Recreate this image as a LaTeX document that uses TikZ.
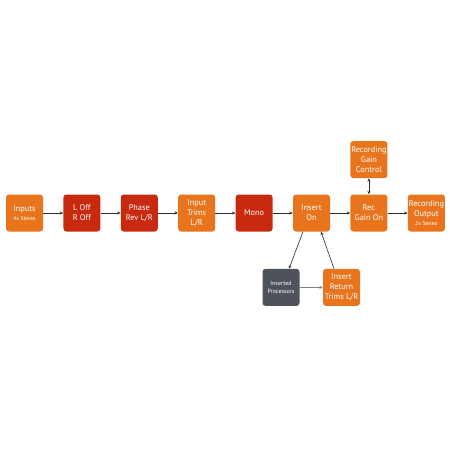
\documentclass[tikz,border=0pt]{standalone}
\usepackage{fontspec}
\setmainfont{PT Sans}
\usetikzlibrary{arrows.meta,positioning}
\definecolor{sigorange}{RGB}{232,117,30}
\definecolor{sigred}{RGB}{200,42,16}
\definecolor{sigslate}{RGB}{78,82,90}
\definecolor{wiregrey}{RGB}{45,45,45}

\begin{document}
\begin{tikzpicture}[font=\fontsize{8.3}{10}\selectfont, box/.style={rounded corners=3pt, align=center, text=white, minimum width=37pt, minimum height=37pt, inner sep=1pt, fill=sigorange}, arr/.style={-{Stealth[length=3.5pt,width=3pt]}, line width=0.6pt, draw=wiregrey}]
\useasboundingbox[fill=white] (0,0) rectangle (450pt,-450pt);
\node[box] (inputs) at (24.5pt,-213pt) {Inputs\\[-1pt]{\fontsize{5.5}{6}\selectfont 4x Stereo}};
\node[box, right=20pt of inputs, fill=sigred] (lroff) {L Off\\R Off};
\node[box, right=20pt of lroff, fill=sigred] (phase) {Phase\\Rev L/R};
\node[box, right=20pt of phase] (trims) {Input\\Trims\\L/R};
\node[box, right=20pt of trims, fill=sigred] (mono) {Mono};
\node[box, right=20pt of mono] (insert) {Insert\\On};
\node[box, right=20pt of insert] (rec) {Rec\\Gain On};
\node[box, right=20pt of rec] (recout) {Recording\\Output\\[-1pt]{\fontsize{5.5}{6}\selectfont 2x Stereo}};
\node[box, above=16pt of rec] (gainctl) {Recording\\Gain\\Control};
\node[box, below=37pt of insert, xshift=-30.5pt, fill=sigslate, font=\fontsize{6}{7.5}\selectfont] (procs) {Inserted\\Processors};
\node[box, below=37pt of insert, xshift=30pt] (insret) {Insert\\Return\\Trims L/R};
\draw[arr] (inputs) -- (lroff);
\draw[arr] (lroff) -- (phase);
\draw[arr] (phase) -- (trims);
\draw[arr] (trims) -- (mono);
\draw[arr] (mono) -- (insert);
\draw[arr] (insert) -- (rec);
\draw[arr] (rec) -- (recout);
\draw[arr, {Stealth[length=3.5pt,width=3pt]}-{Stealth[length=3.5pt,width=3pt]}] (rec) -- (gainctl);
\draw[arr] ([xshift=-8.5pt]insert.south) -- ([xshift=8pt]procs.north);
\draw[arr, draw=gray] (procs) -- (insret);
\draw[arr] ([xshift=-7.5pt]insret.north) -- ([xshift=9.5pt]insert.south);
\end{tikzpicture}
\end{document}
